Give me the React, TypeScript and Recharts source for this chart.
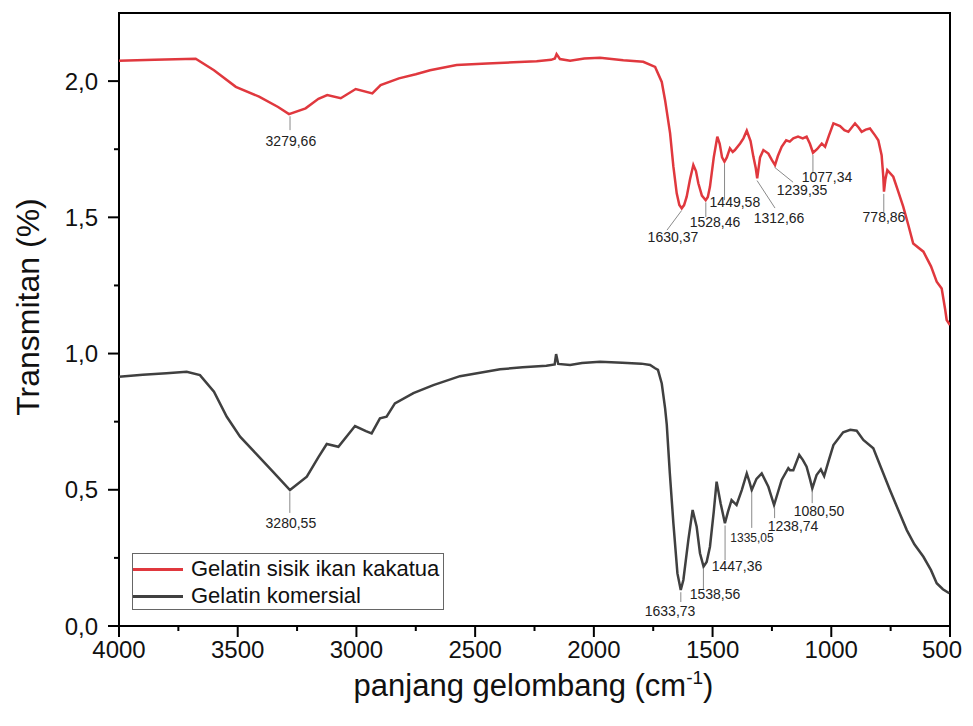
import {
  LineChart,
  Line,
  XAxis,
  YAxis,
  Legend,
  Label,
  ReferenceArea,
  ReferenceLine,
  ReferenceDot,
} from "recharts";

// wavenumber (cm-1) / transmitan readings, red = gelatin from kakatua fish scales
const sisikX = [
  4000, 3850, 3677, 3600, 3508, 3410, 3330, 3284, 3214, 3160, 3123, 3066, 3003, 2933, 2898, 2821, 2750,
  2690, 2578, 2450, 2339, 2241, 2180, 2164, 2157, 2143, 2100, 2040, 1974, 1876, 1792, 1742, 1714, 1700,
  1679, 1665, 1651, 1640, 1630, 1620, 1609, 1595, 1581, 1570, 1560, 1545, 1529, 1520, 1511, 1495, 1480,
  1470, 1460, 1450, 1440, 1427, 1415, 1406, 1384, 1370, 1356, 1340, 1328, 1318, 1312, 1300, 1286, 1265,
  1250, 1237, 1225, 1209, 1190, 1175, 1160, 1140, 1120, 1104, 1090, 1077, 1060, 1040, 1026, 1010, 991,
  963, 945, 928, 900, 885, 872, 855, 837, 815, 802, 788, 781, 778, 772, 764, 739, 720, 697, 675, 655,
  612, 580, 556, 535, 520, 514, 500,
];
const sisikY = [
  2.075, 2.078, 2.082, 2.04, 1.979, 1.943, 1.905, 1.879, 1.9, 1.935, 1.949, 1.937, 1.971, 1.955, 1.985,
  2.01, 2.025, 2.04, 2.059, 2.065, 2.069, 2.073, 2.078, 2.083, 2.099, 2.081, 2.075, 2.083, 2.086, 2.077,
  2.071, 2.052, 1.997, 1.93, 1.809, 1.686, 1.588, 1.545, 1.533, 1.545, 1.576, 1.64, 1.692, 1.67, 1.625,
  1.58, 1.563, 1.575, 1.612, 1.72, 1.796, 1.77, 1.72, 1.704, 1.72, 1.753, 1.74, 1.747, 1.771, 1.79, 1.818,
  1.78, 1.722, 1.68, 1.643, 1.72, 1.747, 1.734, 1.71, 1.692, 1.725, 1.759, 1.783, 1.778, 1.79, 1.796,
  1.79, 1.796, 1.77, 1.737, 1.75, 1.771, 1.759, 1.8, 1.845, 1.835, 1.82, 1.814, 1.845, 1.83, 1.814, 1.822,
  1.826, 1.8, 1.783, 1.728, 1.65, 1.594, 1.64, 1.673, 1.649, 1.6, 1.539, 1.47, 1.404, 1.374, 1.32, 1.264,
  1.239, 1.16, 1.123, 1.105,
];

// commercial gelatin
const komersialX = [
  4000, 3900, 3800, 3715, 3659, 3600, 3546, 3490, 3420, 3350, 3280, 3209, 3160, 3125, 3076, 3006, 2960,
  2936, 2901, 2873, 2838, 2760, 2676, 2564, 2395, 2300, 2200, 2165, 2159, 2150, 2100, 2050, 1974, 1880,
  1800, 1763, 1742, 1730, 1714, 1700, 1693, 1680, 1665, 1648, 1634, 1623, 1602, 1584, 1567, 1553, 1538,
  1525, 1511, 1495, 1483, 1466, 1448, 1435, 1420, 1399, 1377, 1356, 1345, 1335, 1315, 1293, 1265, 1241,
  1225, 1209, 1181, 1174, 1160, 1135, 1120, 1104, 1090, 1080, 1062, 1044, 1030, 1010, 991, 950, 920, 893,
  865, 823, 790, 753, 720, 682, 650, 612, 580, 556, 530, 503,
];
const komersialY = [
  0.915, 0.922, 0.928, 0.933, 0.921, 0.86, 0.768, 0.695, 0.63, 0.565, 0.499, 0.548, 0.62, 0.668, 0.658,
  0.734, 0.715, 0.707, 0.762, 0.768, 0.817, 0.855, 0.884, 0.917, 0.942, 0.95, 0.955, 0.96, 0.998, 0.962,
  0.958, 0.965, 0.97, 0.966, 0.963, 0.958, 0.946, 0.94, 0.89, 0.8, 0.74, 0.56, 0.377, 0.193, 0.132, 0.169,
  0.316, 0.426, 0.364, 0.267, 0.218, 0.235, 0.291, 0.42, 0.53, 0.45, 0.377, 0.42, 0.462, 0.444, 0.499,
  0.56, 0.53, 0.499, 0.54, 0.56, 0.511, 0.444, 0.49, 0.536, 0.579, 0.572, 0.572, 0.628, 0.61, 0.585,
  0.54, 0.505, 0.554, 0.575, 0.55, 0.61, 0.664, 0.711, 0.72, 0.717, 0.683, 0.652, 0.58, 0.499, 0.43,
  0.352, 0.3, 0.254, 0.205, 0.157, 0.135, 0.12,
];

const seriesNames = ["Gelatin sisik ikan kakatua", "Gelatin komersial"];

// peak annotations: text, peak wavenumber, peak transmitan
const sisikPeaks = [
  ["3279,66", 3279.66, 1.879],
  ["1630,37", 1630.37, 1.533],
  ["1528,46", 1528.46, 1.563],
  ["1449,58", 1449.58, 1.704],
  ["1312,66", 1312.66, 1.643],
  ["1239,35", 1239.35, 1.692],
  ["1077,34", 1077.34, 1.737],
  ["778,86", 778.86, 1.594],
] as const;
const komersialPeaks = [
  ["3280,55", 3280.55, 0.499],
  ["1633,73", 1633.73, 0.132],
  ["1538,56", 1538.56, 0.218],
  ["1447,36", 1447.36, 0.377],
  ["1335,05", 1335.05, 0.499],
  ["1238,74", 1238.74, 0.444],
  ["1080,50", 1080.5, 0.505],
] as const;

// where each leader line ends and the text sits (leaderX, leaderY, textX, textY, fontSize)
const sisikLabelPos = [
  [3279.66, 1.82, 3276, 1.78, 14],
  [1692, 1.453, 1667, 1.428, 14],
  [1528.46, 1.501, 1490, 1.483, 14],
  [1449.58, 1.563, 1406, 1.556, 14],
  [1237, 1.534, 1220, 1.497, 14],
  [1161, 1.629, 1123, 1.6, 14],
  [1077.34, 1.662, 1018, 1.648, 14],
  [778.86, 1.519, 778, 1.501, 14],
];
const komersialLabelPos = [
  [3280.55, 0.415, 3276, 0.378, 14],
  [1633.73, 0.088, 1679, 0.055, 14],
  [1538.56, 0.132, 1490, 0.117, 14],
  [1447.36, 0.242, 1397, 0.22, 14],
  [1335.05, 0.36, 1334, 0.323, 12],
  [1238.74, 0.396, 1161, 0.367, 14],
  [1080.5, 0.451, 1052, 0.422, 14],
];

const xTicks = [4000, 3750, 3500, 3250, 3000, 2750, 2500, 2250, 2000, 1750, 1500, 1250, 1000, 750, 500];
const yTicks = [0, 0.25, 0.5, 0.75, 1, 1.25, 1.5, 1.75, 2];

const sisikData = sisikX.map((x, i) => ({ x, y: sisikY[i] }));
const komersialData = komersialX.map((x, i) => ({ x, y: komersialY[i] }));

const RED = "#E0383E";
const DARK = "#404040";

const XTick = (props: any) => {
  const { x, y, payload } = props;
  const major = payload.value % 500 === 0;
  // last label would run past the page edge, nudge it in a little
  const shift = payload.value === 500 ? -8 : 0;
  return (
    <g>
      <line x1={x} x2={x} y1={y} y2={y + (major ? 11 : 5)} stroke="#000" strokeWidth={2} />
      {major && (
        <text x={x + shift} y={y + 32} textAnchor="middle" fontSize={24} fill="#111">
          {payload.value}
        </text>
      )}
    </g>
  );
};

const YTick = (props: any) => {
  const { x, y, payload } = props;
  const v = payload.value;
  const major = Math.abs(v * 2 - Math.round(v * 2)) < 1e-6;
  return (
    <g>
      <line x1={x} x2={x - (major ? 11 : 5)} y1={y} y2={y} stroke="#000" strokeWidth={2} />
      {major && (
        <text x={x - 21} y={y + 8.5} textAnchor="end" fontSize={24} fill="#111">
          {v.toFixed(1).replace(".", ",")}
        </text>
      )}
    </g>
  );
};

const XTitle = (props: any) => {
  const vb = props.viewBox;
  const cx = vb.x + vb.width / 2 - 1;
  const cy = vb.y + 70;
  return (
    <text x={cx} y={cy} textAnchor="middle" fontSize={31} fill="#111">
      panjang gelombang (cm
      <tspan dy={-12} fontSize={19}>-1</tspan>
      <tspan dy={12}>)</tspan>
    </text>
  );
};

const YTitle = () => (
  <text x={31} y={299} transform="rotate(-90 31 299)" textAnchor="middle" fontSize={32} fill="#111">
    Transmitan (%)
  </text>
);

const renderLegend = (props: any) => {
  const items = [...(props.payload || [])].sort(
    (a: any, b: any) => seriesNames.indexOf(a.value) - seriesNames.indexOf(b.value)
  );
  return (
    <div
      style={{
        width: 310,
        height: 55,
        border: "1px solid #666",
        background: "#fff",
        position: "relative",
        fontSize: 22,
        color: "#111",
      }}
    >
      {items.map((p: any, i: number) => (
        <div
          key={p.value}
          style={{ position: "absolute", left: 0, top: 2 + i * 27, height: 26, display: "flex", alignItems: "center" }}
        >
          <span style={{ display: "inline-block", width: 50, height: 3, background: p.color }} />
          <span style={{ marginLeft: 8, whiteSpace: "nowrap" }}>{p.value}</span>
        </div>
      ))}
    </div>
  );
};

function peakMarks(peaks: readonly (readonly [string, number, number])[], pos: number[][], key: string) {
  return peaks.flatMap(([text, px, py], i) => {
    const [ex, ey, tx, ty, fs] = pos[i];
    return [
      <ReferenceLine
        key={key + "l" + i}
        segment={[
          { x: px, y: py - 0.008 },
          { x: ex, y: ey },
        ]}
        stroke="#8a8a8a"
        strokeWidth={1}
      />,
      <ReferenceDot
        key={key + "t" + i}
        x={tx}
        y={ty}
        r={0}
        fill="none"
        stroke="none"
        label={{ value: text, position: "center", fontSize: fs, fill: "#222" }}
      />,
    ];
  });
}

export default function App() {
  return (
    <div style={{ fontFamily: "'Liberation Sans', Arial, sans-serif", width: 957, height: 704 }}>
      <LineChart width={957} height={704} margin={{ top: 5, right: 15, bottom: 0, left: 0 }}>
        <XAxis
          dataKey="x"
          type="number"
          domain={[500, 4000]}
          reversed
          allowDataOverflow
          ticks={xTicks}
          interval={0}
          tick={XTick}
          tickLine={false}
          axisLine={false}
          tickSize={0}
          tickMargin={0}
          height={86}
        >
          <Label content={XTitle} />
        </XAxis>
        <YAxis
          type="number"
          domain={[0, 2.25]}
          allowDataOverflow
          ticks={yTicks}
          interval={0}
          tick={YTick}
          tickLine={false}
          axisLine={false}
          tickSize={0}
          tickMargin={0}
          width={111}
        >
          <Label content={YTitle} />
        </YAxis>
        <Line
          data={sisikData}
          dataKey="y"
          name={seriesNames[0]}
          type="linear"
          stroke={RED}
          strokeWidth={2.5}
          dot={false}
          isAnimationActive={false}
        />
        <Line
          data={komersialData}
          dataKey="y"
          name={seriesNames[1]}
          type="linear"
          stroke={DARK}
          strokeWidth={2.5}
          dot={false}
          isAnimationActive={false}
        />
        {peakMarks(sisikPeaks, sisikLabelPos, "s")}
        {peakMarks(komersialPeaks, komersialLabelPos, "k")}
        <ReferenceArea
          x1={4000}
          x2={500}
          y1={0}
          y2={2.25}
          fill="none"
          fillOpacity={0}
          stroke="#000"
          strokeWidth={2}
          ifOverflow="visible"
        />
        <Legend
          layout="vertical"
          align="center"
          verticalAlign="middle"
          content={renderLegend}
          wrapperStyle={{ left: 124, top: 545, width: 312, height: 57 }}
        />
      </LineChart>
    </div>
  );
}
